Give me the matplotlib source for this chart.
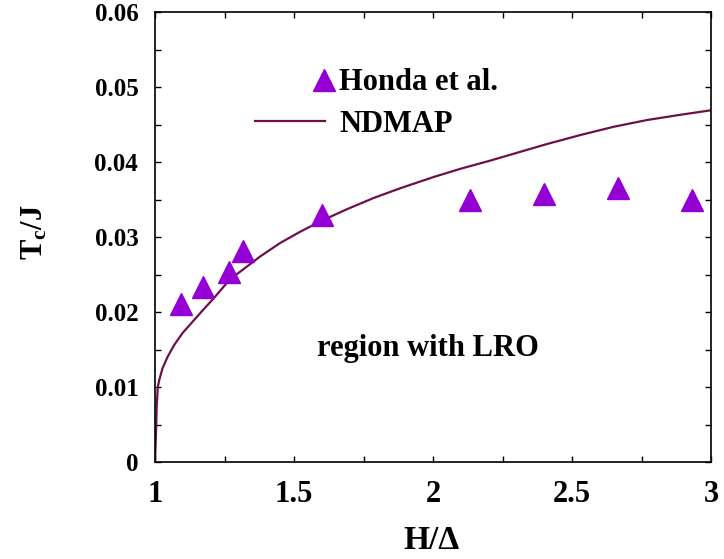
import matplotlib
matplotlib.use("Agg")
import matplotlib.pyplot as plt
from matplotlib.lines import Line2D
from matplotlib.legend_handler import HandlerLine2DCompound

plt.rcParams['font.family'] = ['Liberation Serif', 'DejaVu Serif']
plt.rcParams['font.weight'] = 'bold'
plt.rcParams['mathtext.fontset'] = 'custom'
plt.rcParams['mathtext.rm'] = 'Liberation Serif:bold'
plt.rcParams['mathtext.it'] = 'Liberation Serif:bold'

# Honda et al. data points
honda_h = [1.093, 1.174, 1.265, 1.318, 1.600, 2.132, 2.398, 2.664, 2.930]
honda_tc = [0.0211, 0.0233, 0.0254, 0.0282, 0.0330, 0.0349, 0.0358, 0.0365, 0.0349]

# NDMAP curve
ndmap_h = [1.0, 1.004, 1.006, 1.010, 1.015, 1.027, 1.045, 1.069, 1.099, 1.135,
           1.171, 1.213, 1.268, 1.378, 1.450, 1.522, 1.601, 1.690, 1.786, 1.882,
           2.002, 2.099, 2.207, 2.290, 2.410, 2.530, 2.650, 2.770, 2.890, 3.0]
ndmap_tc = [0.0, 0.0043, 0.0074, 0.0100, 0.0109, 0.0125, 0.0140, 0.0156, 0.0172,
            0.0187, 0.0202, 0.0219, 0.0243, 0.0274, 0.0292, 0.0307, 0.0322, 0.0337,
            0.0352, 0.0365, 0.0380, 0.0391, 0.0402, 0.0411, 0.0424, 0.0436, 0.0447,
            0.0456, 0.0463, 0.0469]

xticks = [1, 1.5, 2, 2.5, 3]
xticklabels = ['1', '1.5', '2', '2.5', '3']
yticks = [0, 0.01, 0.02, 0.03, 0.04, 0.05, 0.06]
yticklabels = ['0', '0.01', '0.02', '0.03', '0.04', '0.05', '0.06']

line_color = '#6d0f4b'
tri_color = '#9400d3'


class RightMarker(HandlerLine2DCompound):
    # put the legend marker at the right end of the sample, like gnuplot
    def get_xdata(self, legend, xdescent, ydescent, width, height, fontsize):
        xd, xm = super().get_xdata(legend, xdescent, ydescent, width, height, fontsize)
        return xd, [width - xdescent - 0.03 * fontsize]


fig = plt.figure(figsize=(7.24, 5.59), dpi=100)
ax = fig.add_axes([0.2141, 0.1735, 0.7680, 0.8050])

ax.plot(ndmap_h, ndmap_tc, color=line_color, lw=1.6, zorder=2)
ax.plot(honda_h, honda_tc, ls='none', marker='^', ms=16, color=tri_color,
        mec=tri_color, zorder=3)

ax.set_xlim(1, 3)
ax.set_ylim(0, 0.06)
ax.set_xticks(xticks)
ax.set_xticklabels(xticklabels)
ax.set_yticks(yticks)
ax.set_yticklabels(yticklabels)
ax.set_xticks([1.25, 1.75, 2.25, 2.75], minor=True)
ax.set_yticks([0.005, 0.015, 0.025, 0.035, 0.045, 0.055], minor=True)
ax.tick_params(which='both', direction='in', top=True, right=True, length=4,
               width=1)
ax.tick_params(axis='x', which='major', labelsize=22, pad=13)
ax.tick_params(axis='y', which='major', labelsize=18, pad=12)
for s in ax.spines.values():
    s.set_linewidth(1.2)

ax.set_xlabel('H/Δ', fontsize=24, fontweight='bold')
ax.set_ylabel(r'$\mathrm{T_c/J}$', fontsize=22)
ax.xaxis.set_label_coords(0.498, -0.14)
ax.yaxis.set_label_coords(-0.19, 0.51)

ax.text(1.982, 0.0152, 'region with LRO', fontsize=22, fontweight='bold',
        ha='center', va='center')

handles = [Line2D([], [], ls='none', marker='^', ms=16, color=tri_color),
           Line2D([], [], color=line_color, lw=1.6)]
ax.legend(handles, ['Honda et al.', 'NDMAP'], loc='upper left',
          bbox_to_anchor=(0.18, 0.875), frameon=False, fontsize=22,
          handlelength=2.3, handletextpad=0.45, labelspacing=0.42,
          borderpad=0, borderaxespad=0, numpoints=1,
          handler_map={handles[0]: RightMarker(numpoints=1)})

fig.savefig('out.png', dpi=100)
